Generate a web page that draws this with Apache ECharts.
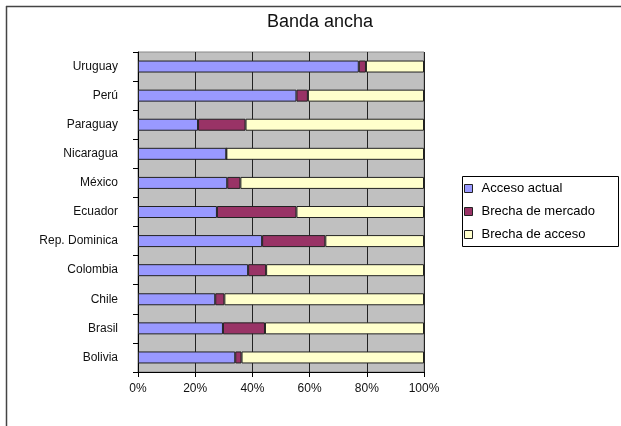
<!DOCTYPE html>
<html>
<head>
<meta charset="utf-8">
<script src="https://cdn.jsdelivr.net/npm/echarts@6/dist/echarts.min.js"></script>
<style>
html,body{margin:0;padding:0;background:#fff;}
#c{width:621px;height:426px;}
</style>
</head>
<body>
<div id="c"></div>
<script>
// Categories, top to bottom as drawn
const categories = ['Uruguay','Perú','Paraguay','Nicaragua','México','Ecuador','Rep. Dominica','Colombia','Chile','Brasil','Bolivia'];
// Percent values
const accesoActual   = [77.2, 55.4, 21.0, 30.9, 31.2, 27.6, 43.4, 38.5, 27.0, 29.7, 34.0];
const brechaMercado  = [2.5, 4.0, 16.6, 0, 4.6, 27.8, 22.1, 6.3, 3.2, 14.7, 2.2];
const brechaAcceso   = [20.3, 40.6, 62.4, 69.1, 64.2, 44.6, 34.5, 55.2, 69.8, 55.6, 63.8];
const seriesNames = ['Acceso actual','Brecha de mercado','Brecha de acceso'];
const xTicks = [0, 20, 40, 60, 80, 100];

const colors = ['#9999ff','#993366','#ffffcc'];
const chart = echarts.init(document.getElementById('c'));
const font = 'Liberation Sans, Arial, sans-serif';
const mk = (name, data, color) => ({
  name, type:'bar', stack:'t', data, barWidth:12,
  itemStyle:{color, borderColor:'#222', borderWidth:1},
  emphasis:{disabled:true}
});
chart.setOption({
  animation:false,
  textStyle:{fontFamily:font},
  title:{text:'Banda ancha', left:262, top:8,
    textStyle:{fontSize:18, fontWeight:'normal', color:'#111', fontFamily:font}},
  legend:{
    orient:'vertical', left:464, top:182,
    itemWidth:8, itemHeight:8, itemGap:10,
    padding:0,
    icon:'rect',
    textStyle:{fontSize:13, color:'#000', fontFamily:font, padding:[0,0,0,4]},
    itemStyle:{borderColor:'#222', borderWidth:1},
    data:seriesNames
  },
  grid:{left:138, right:197, top:52, bottom:54, containLabel:false,
    show:true, backgroundColor:'#c0c0c0', borderColor:'#888', borderWidth:1},
  xAxis:{
    type:'value', min:0, max:100, interval:20,
    axisLine:{show:true, lineStyle:{color:'#000'}},
    axisTick:{show:true, length:5, lineStyle:{color:'#000'}},
    axisLabel:{formatter: v => xTicks.includes(v) ? v + '%' : '', fontSize:12, color:'#111', margin:11, fontFamily:font},
    splitLine:{show:true, lineStyle:{color:'#222', width:1}}
  },
  yAxis:{
    type:'category', data:categories, inverse:true,
    axisLine:{show:true, lineStyle:{color:'#000'}},
    axisTick:{show:true, length:5, lineStyle:{color:'#000'}},
    axisLabel:{fontSize:12, color:'#111', margin:20, fontFamily:font},
    splitLine:{show:false}
  },
  series:[
    mk(seriesNames[0], accesoActual, colors[0]),
    mk(seriesNames[1], brechaMercado, colors[1]),
    mk(seriesNames[2], brechaAcceso, colors[2])
  ],
  graphic:[
    {type:'line', shape:{x1:6, y1:6.5, x2:621, y2:6.5}, style:{stroke:'#444', lineWidth:1.5}},
    {type:'line', shape:{x1:6.5, y1:6, x2:6.5, y2:426}, style:{stroke:'#444', lineWidth:1.5}},
    {type:'rect', shape:{x:462.5, y:176.5, width:156, height:70}, style:{fill:'none', stroke:'#000', lineWidth:1}}
  ]
});
</script>
</body>
</html>
